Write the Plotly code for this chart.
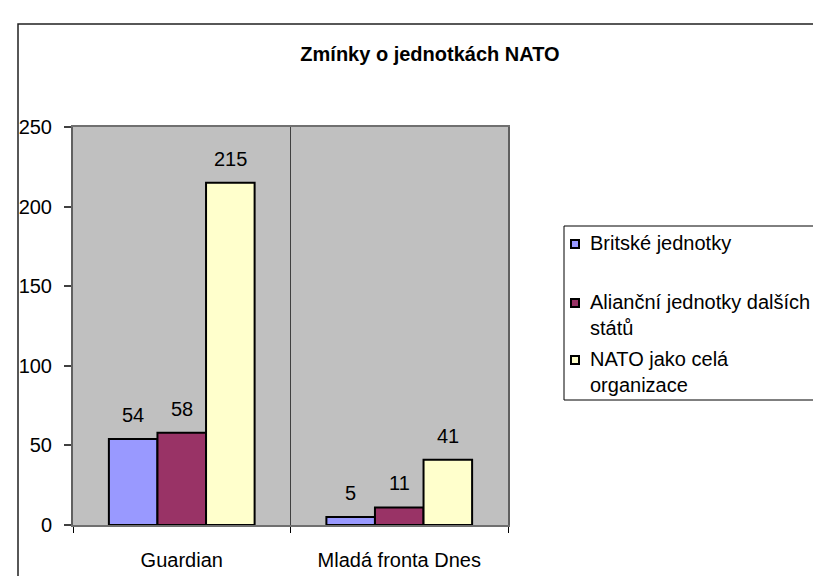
import plotly.graph_objects as go

# ---- data ----
categories = ["Guardian", "Mladá fronta Dnes"]
series_names = ["Britské jednotky", "Alianční jednotky dalších států", "NATO jako celá organizace"]
legend_labels = ["Britské jednotky", "Alianční jednotky dalších<br>států", "NATO jako celá<br>organizace"]
britske = [54, 5]
alianční = [58, 11]
nato = [215, 41]
series_values = [britske, alianční, nato]
y_ticks = [0, 50, 100, 150, 200, 250]
title_text = "Zmínky o jednotkách NATO"

colors = ["#9999FF", "#993366", "#FFFFCC"]
FONT = "Liberation Sans, Arial, sans-serif"
FS = 20

# layout geometry (pixels)
W, H = 821, 576
L, R, T, B = 65, 500, 119, 517


def px_x(px):
    return (px - L) / (R - L)


def px_y(py):
    return (B - py) / (B - T)


bargap = 0.33
n_series = len(series_values)
bw = (1 - bargap) / n_series
xpos = list(range(len(categories)))

fig = go.Figure()
for k, (name, vals) in enumerate(zip(series_names, series_values)):
    fig.add_trace(go.Bar(
        x=xpos, y=vals, name=name,
        marker=dict(color=colors[k], line=dict(color="black", width=2)),
        showlegend=False,
    ))

annotations = []
# data labels
for k, vals in enumerate(series_values):
    for i, v in enumerate(vals):
        annotations.append(dict(
            x=i + (k - (n_series - 1) / 2) * bw, y=v, xref="x", yref="y",
            text=str(v), showarrow=False, yanchor="middle", yshift=24,
            font=dict(family=FONT, size=FS, color="black"),
        ))

shapes = []
# category separator inside plot
for i in range(len(categories) - 1):
    shapes.append(dict(type="line", xref="x", yref="paper", x0=i + 0.5, x1=i + 0.5,
                       y0=0, y1=1, line=dict(color="#404040", width=1)))

# outer chart border
shapes.append(dict(type="rect", xref="paper", yref="paper",
                   x0=px_x(10), x1=px_x(840), y0=px_y(600), y1=px_y(16),
                   line=dict(color="#202020", width=1.5), layer="below"))

# legend box (manual legend)
shapes.append(dict(type="rect", xref="paper", yref="paper",
                   x0=px_x(556), x1=px_x(840), y0=px_y(392), y1=px_y(218),
                   line=dict(color="black", width=1)))
leg_centers = [236, 295, 352]
for k, (lab, cy) in enumerate(zip(legend_labels, leg_centers)):
    shapes.append(dict(type="rect", xref="paper", yref="paper",
                       x0=px_x(563), x1=px_x(571), y0=px_y(cy + 4), y1=px_y(cy - 4),
                       fillcolor=colors[k], line=dict(color="black", width=2)))
    annotations.append(dict(
        x=px_x(580), y=px_y(cy - 14), xref="paper", yref="paper",
        text=lab, showarrow=False, xanchor="left", yanchor="top", align="left",
        font=dict(family=FONT, size=FS, color="black"),
    ))

fig.update_layout(
    width=W, height=H,
    margin=dict(l=L, r=W - R, t=T, b=H - B, pad=0),
    paper_bgcolor="white", plot_bgcolor="#C0C0C0",
    barmode="group", bargap=bargap, bargroupgap=0,
    title=dict(text="<b>" + title_text + "</b>", x=422 / W, y=1 - 46 / H,
               xanchor="center", yanchor="middle",
               font=dict(family=FONT, size=FS, color="black")),
    font=dict(family=FONT, size=FS, color="black"),
    showlegend=False,
    annotations=annotations,
    shapes=shapes,
)

fig.update_xaxes(
    range=[-0.5, len(categories) - 0.5],
    tickmode="array", tickvals=xpos, ticktext=categories,
    ticks="", showgrid=False, zeroline=False,
    showline=True, linecolor="#707070", linewidth=2, mirror=True,
    ticklabelstandoff=16,
    minor=dict(tickmode="array", tickvals=[i - 0.5 for i in range(len(categories) + 1)],
               ticks="outside", ticklen=6, tickwidth=1, tickcolor="black"),
    tickfont=dict(family=FONT, size=FS, color="black"),
)
fig.update_yaxes(
    range=[0, 250], tickmode="array", tickvals=y_ticks,
    ticks="outside", ticklen=7, tickwidth=1.5, tickcolor="#404040",
    showgrid=False, zeroline=False,
    showline=True, linecolor="#606060", linewidth=2, mirror=True,
    ticklabelstandoff=8,
    tickfont=dict(family=FONT, size=FS, color="black"),
)

fig.write_html("out.html")
